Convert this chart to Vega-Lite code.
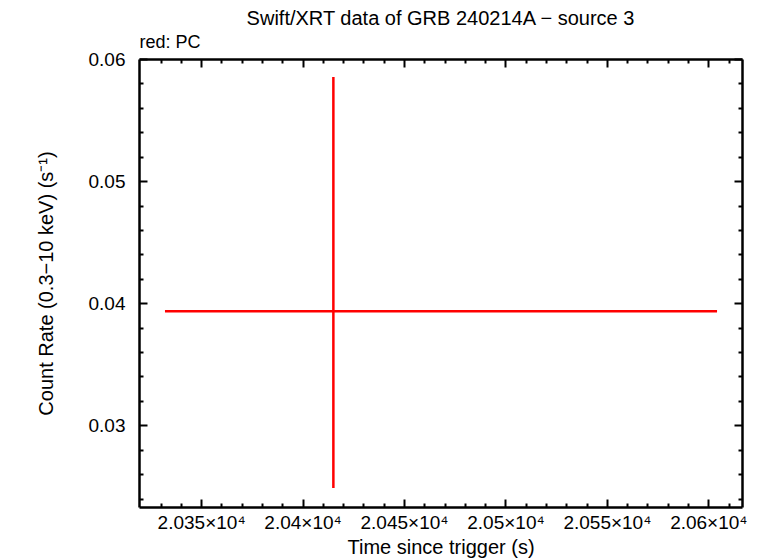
{
  "$schema": "https://vega.github.io/schema/vega-lite/v6.json",
  "autosize": "none",
  "width": 603,
  "height": 448,
  "padding": {"left": 139, "top": 59, "right": 20, "bottom": 51},
  "background": "white",
  "title": {"text": "Swift/XRT data of GRB 240214A − source 3", "font": "Liberation Sans", "fontSize": 20, "fontWeight": "normal", "color": "black", "anchor": "middle", "offset": 4},
  "data": {"values": [
    {"time": 20415.2, "time_lo": 20332.2, "time_hi": 20604.3, "rate": 0.03934, "rate_lo": 0.02487, "rate_hi": 0.05853}
  ]},
  "config": {
    "view": {"stroke": null},
    "axis": {"labelFont": "Liberation Sans", "titleFont": "Liberation Sans", "labelFontSize": 19, "titleFontSize": 20, "titleFontWeight": "normal", "labelColor": "black", "titleColor": "black", "domainColor": "black", "tickColor": "black", "domainWidth": 2.5, "tickWidth": 2, "grid": false}
  },
  "resolve": {"axis": {"x": "independent", "y": "independent"}},
  "layer": [
    {
      "mark": {"type": "rule", "color": "#ff0000", "strokeWidth": 2.5},
      "encoding": {
        "x": {"field": "time_lo", "type": "quantitative", "scale": {"domain": [20319.4, 20616.6], "nice": false, "zero": false},
          "axis": {"orient": "bottom", "values": [20350, 20400, 20450, 20500, 20550, 20600], "tickSize": -8, "labelPadding": 14, "labelExpr": "format(datum.value/10000, '.4~f') + '×10⁴'", "title": "Time since trigger (s)", "titlePadding": 5, "labelFlush": false}},
        "x2": {"field": "time_hi"},
        "y": {"field": "rate", "type": "quantitative", "scale": {"domain": [0.02331, 0.06], "nice": false, "zero": false},
          "axis": {"orient": "left", "values": [0.03, 0.04, 0.05, 0.06], "tickSize": -8, "labelPadding": 22, "format": ".2f", "title": "Count Rate (0.3−10 keV) (s⁻¹)", "titlePadding": 32, "labelFlush": false}}
      }
    },
    {
      "mark": {"type": "rule", "color": "#ff0000", "strokeWidth": 2.5},
      "encoding": {
        "x": {"field": "time", "type": "quantitative", "scale": {"domain": [20319.4, 20616.6], "nice": false, "zero": false},
          "axis": {"orient": "top", "values": [20350, 20400, 20450, 20500, 20550, 20600], "tickSize": -8, "labels": false, "title": "red: PC", "titleFontSize": 18, "titleAnchor": "start", "titleAlign": "left", "titlePadding": 7}},
        "y": {"field": "rate_lo", "type": "quantitative", "scale": {"domain": [0.02331, 0.06], "nice": false, "zero": false},
          "axis": {"orient": "right", "values": [0.03, 0.04, 0.05, 0.06], "tickSize": -8, "labels": false, "title": null}},
        "y2": {"field": "rate_hi"}
      }
    },
    {
      "mark": {"type": "point", "opacity": 0},
      "encoding": {
        "x": {"field": "time", "type": "quantitative", "scale": {"domain": [20319.4, 20616.6], "nice": false, "zero": false},
          "axis": {"orient": "bottom", "values": [20330, 20340, 20360, 20370, 20380, 20390, 20410, 20420, 20430, 20440, 20460, 20470, 20480, 20490, 20510, 20520, 20530, 20540, 20560, 20570, 20580, 20590, 20610], "tickSize": -4, "labels": false, "domain": false, "title": null}},
        "y": {"field": "rate", "type": "quantitative", "scale": {"domain": [0.02331, 0.06], "nice": false, "zero": false},
          "axis": {"orient": "left", "values": [0.024, 0.026, 0.028, 0.032, 0.034, 0.036, 0.038, 0.042, 0.044, 0.046, 0.048, 0.052, 0.054, 0.056, 0.058], "tickSize": -4, "labels": false, "domain": false, "title": null}}
      }
    },
    {
      "mark": {"type": "point", "opacity": 0},
      "encoding": {
        "x": {"field": "time", "type": "quantitative", "scale": {"domain": [20319.4, 20616.6], "nice": false, "zero": false},
          "axis": {"orient": "top", "values": [20330, 20340, 20360, 20370, 20380, 20390, 20410, 20420, 20430, 20440, 20460, 20470, 20480, 20490, 20510, 20520, 20530, 20540, 20560, 20570, 20580, 20590, 20610], "tickSize": -4, "labels": false, "domain": false, "title": null}},
        "y": {"field": "rate", "type": "quantitative", "scale": {"domain": [0.02331, 0.06], "nice": false, "zero": false},
          "axis": {"orient": "right", "values": [0.024, 0.026, 0.028, 0.032, 0.034, 0.036, 0.038, 0.042, 0.044, 0.046, 0.048, 0.052, 0.054, 0.056, 0.058], "tickSize": -4, "labels": false, "domain": false, "title": null}}
      }
    }
  ]
}
